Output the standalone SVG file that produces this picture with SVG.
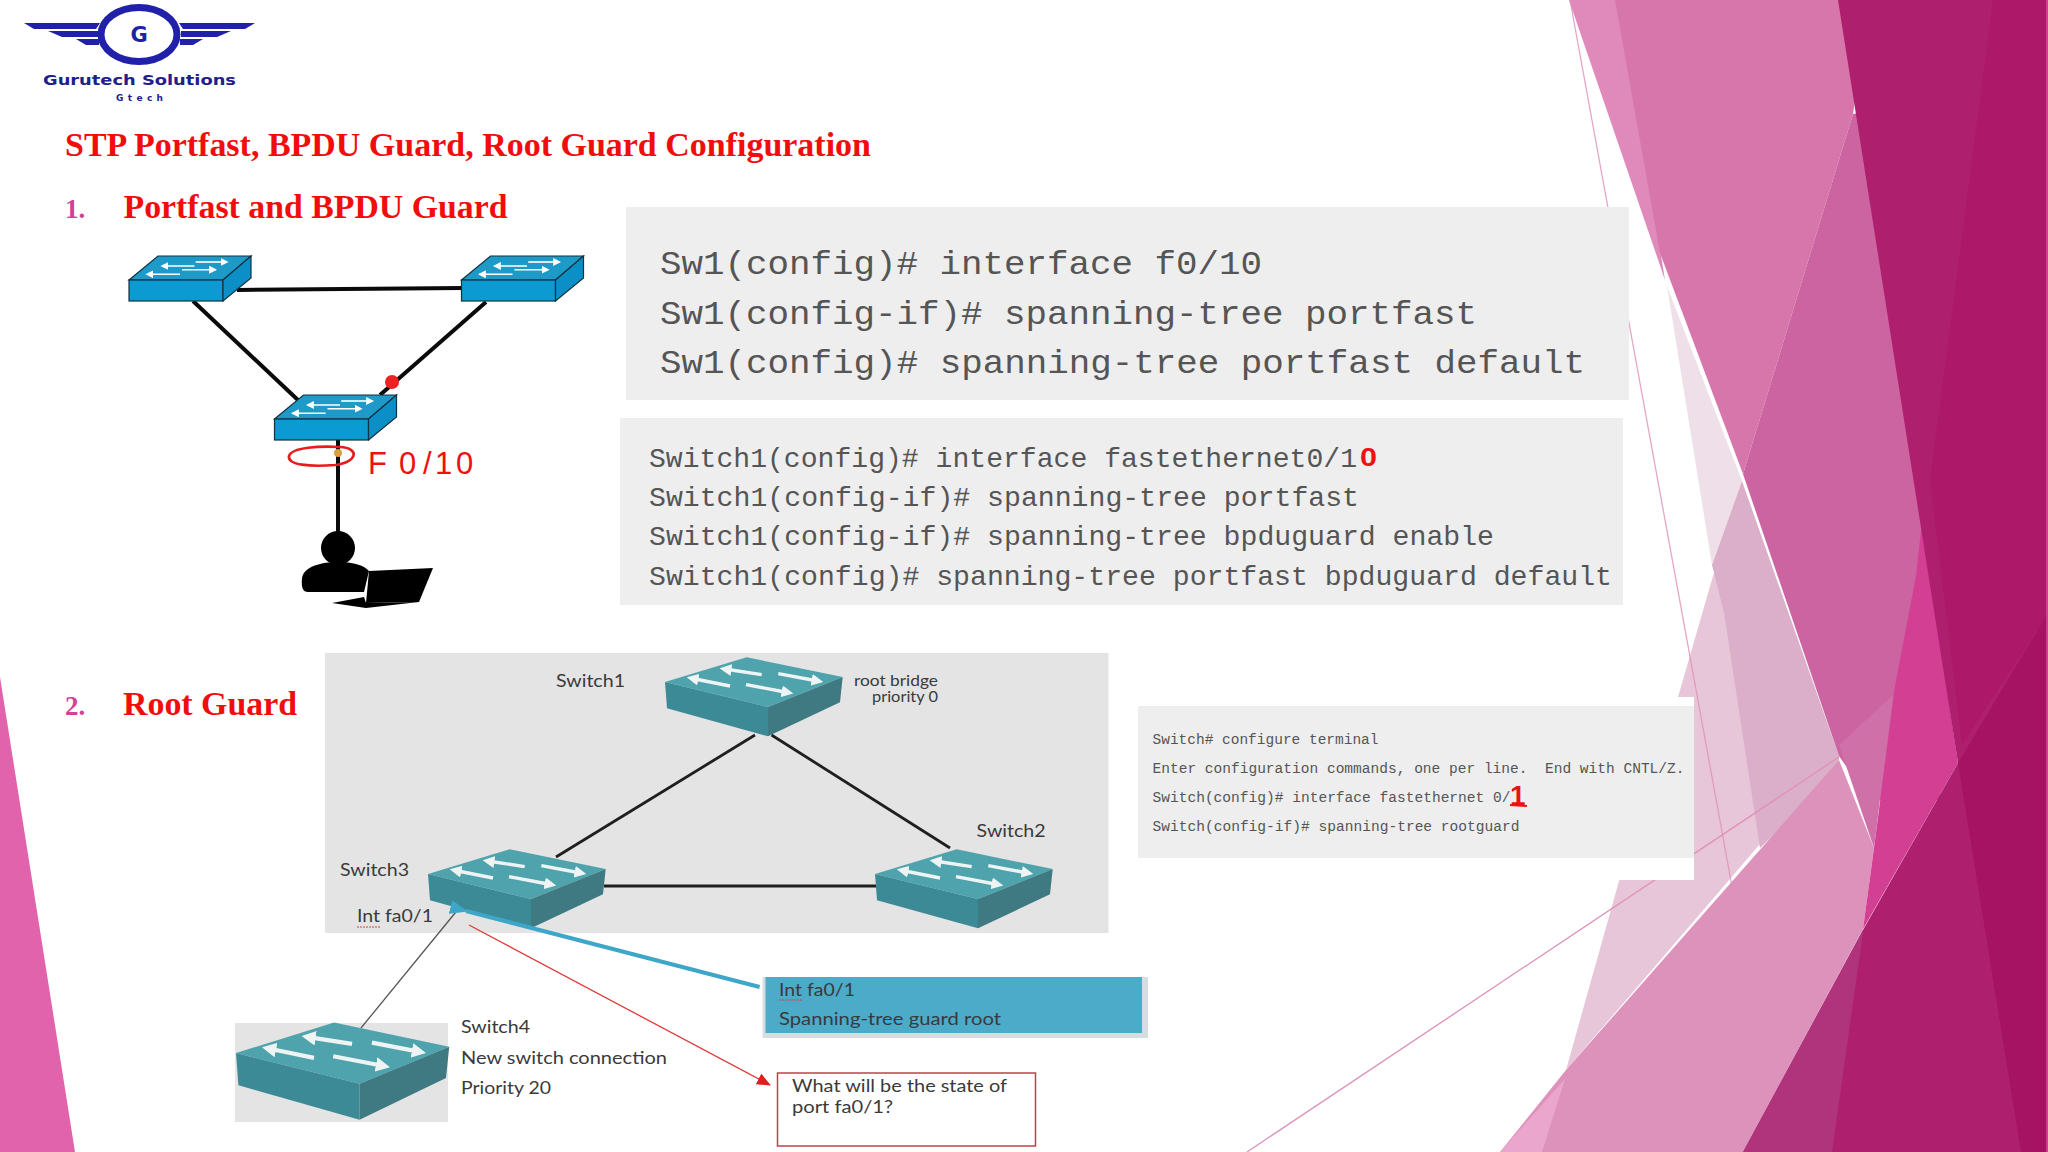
<svg xmlns="http://www.w3.org/2000/svg" width="2048" height="1152" viewBox="0 0 2048 1152">
<style>
text{white-space:pre}
.h{font-family:"Liberation Serif",serif;font-weight:bold;fill:#f20d0d}
.n{font-family:"Liberation Serif",serif;font-weight:bold;fill:#d63f96}
.m{font-family:"Liberation Mono",monospace;fill:#555555}
.c{font-family:Lato,"Open Sans",sans-serif;font-size:17px;fill:#3a3a3a}
.ink{font-family:"Liberation Sans",sans-serif;fill:#ee1111}
.panel{fill:#eeeeee}
.logo{fill:#2020a8}
.bs{stroke:#12323f;stroke-width:1.2}
.ba{stroke:#fff;stroke-width:1.6;fill:none;marker-end:url(#wh)}
.ta{stroke:#eef4f4;stroke-width:3.4;fill:none;marker-end:url(#wh2)}
.blk{stroke:#0a0a0a;stroke-width:4;fill:none}
.dk{stroke:#1f1f1f;stroke-width:2.8;fill:none}
.thin{fill:none;stroke:#e090b8;stroke-width:1.3}
</style>
<defs>
<marker id="wh" markerWidth="5" markerHeight="5" refX="4" refY="2.500" orient="auto"><path d="M0 0L5 2.500L0 5z" fill="#fff"/></marker>
<marker id="wh2" markerWidth="3.500" markerHeight="3.500" refX="1" refY="1.750" orient="auto"><path d="M0 0L3.500 1.750L0 3.500z" fill="#eef4f4"/></marker>
<marker id="bh" markerUnits="userSpaceOnUse" markerWidth="18" markerHeight="14" refX="2" refY="7" orient="auto"><path d="M18 0L0 7L18 14z" fill="#3ea6c8"/></marker>
<marker id="rh" markerUnits="userSpaceOnUse" markerWidth="14" markerHeight="12" refX="13" refY="6" orient="auto"><path d="M0 0L14 6L0 12z" fill="#e01f1f"/></marker>
<g id="bsw">
<path class="bs" d="M0 0L29-24H122L94 0z" fill="#1d9ac8"/>
<rect class="bs" x="0" y="0" width="94" height="21" fill="#0b9ad2"/>
<path class="bs" d="M94 0L122-24V-2L94 21z" fill="#0b8fc6"/>
<path class="ba" d="M66.700-18H98"/><path class="ba" d="M65.500-14H33"/><path class="ba" d="M53-10.300H86.500"/><path class="ba" d="M51-5.700H18"/>
</g>
<g id="tsw">
<path d="M0 0L81.700-24.700L177.700-5L103 25z" fill="#4fa3ad"/>
<path d="M0 0L103 25V54.300L2 26.300z" fill="#3c8a95"/>
<path d="M103 25L177.700-5L175 20.300L103 54.300z" fill="#3f7a83"/>
<path class="ta" d="M96.700-7.400L63-12.500"/><path class="ta" d="M113.300-8.400L150-1.500"/><path class="ta" d="M65 4L30-3"/><path class="ta" d="M81 2.600L120 10"/>
</g>
</defs>
<rect width="2048" height="1152" fill="#ffffff"/>
<g id="background">
<path d="M0 677L75 1152H0z" fill="#e063ab"/>
<path d="M1667 286L1742 481L1712 565z" fill="#efdfe9"/>
<path d="M1713 576L1730 530L1762 600L1776 640L1760 844L1566 1070L1619 881L1678 697z" fill="#e8c6da"/>
<path d="M1742 481L1839 756V770L1760 848L1724 613L1712 565z" fill="#dbafc9"/>
<path d="M1569 0H1620L1665 280z" fill="#e089bb"/>
<path d="M1615 0H1870L1853 114L1743 474L1660 253z" fill="#d776ab"/>
<path d="M1853 114L1940 100V800H1870L1839 756L1743 474z" fill="#cd64a2"/>
<path d="M1839 745L1893 695L1874 848z" fill="#cf70a9"/>
<path d="M1500 1152L1566 1070L1839 760L1874 848L1863 929L1743 1152z" fill="#dd92bb"/>
<path d="M1500 1152L1565 1079L1542 1152z" fill="#eaa6cc"/>
<path d="M1922 522L1958 763L1863 929L1874 848L1895 686L1916 576z" fill="#d33f93"/>
<path d="M1838 0H2048V1152H1743L1863.500 929L1958 763z" fill="#ae1f6e"/>
<path d="M1993 0H2048V613L1962 745L1930 480z" fill="#ae1869"/>
<path d="M2048 613L1958 763L2021 1152H2048z" fill="#a61363"/>
<path d="M1743 1152L1863.500 929L1832 1152z" fill="#b0347c"/>
<path d="M2047 0V1152" stroke="#d84f9d" stroke-width="1.500"/>
<path class="thin" d="M1570 0L1731 881L1769 1090" stroke-opacity=".8"/>
<path class="thin" d="M1247 1152L1839 757"/>
</g>
<g id="logo">
<ellipse cx="139" cy="34.500" rx="38" ry="27" fill="#fff" stroke="#2020a8" stroke-width="7"/>
<path class="logo" d="M24 23H100L96 29H34z"/><path class="logo" d="M255 23H179L183 29H245z"/>
<path class="logo" d="M48 31H98V37H62z"/><path class="logo" d="M231 31H181V37H217z"/>
<path class="logo" d="M76 39H99V45H86z"/><path class="logo" d="M203 39H180V45H193z"/>
<text x="139" y="42" text-anchor="middle" font-family="DejaVu Sans,sans-serif" font-weight="bold" font-size="21" fill="#2020a8">G</text>
<text x="43" y="85" font-family="DejaVu Sans,sans-serif" font-weight="bold" font-size="14" fill="#20208c" textLength="193" lengthAdjust="spacingAndGlyphs">Gurutech Solutions</text>
<text x="116" y="101" font-family="DejaVu Sans,sans-serif" font-weight="bold" font-size="9" fill="#20208c" textLength="47">Gtech</text>
</g>
<g id="headings">
<text class="h" x="65" y="156" font-size="34" textLength="806" lengthAdjust="spacingAndGlyphs">STP Portfast, BPDU Guard, Root Guard Configuration</text>
<text class="n" x="65" y="218" font-size="27">1.</text>
<text class="h" x="123.500" y="218" font-size="34" textLength="384" lengthAdjust="spacingAndGlyphs">Portfast and BPDU Guard</text>
<text class="n" x="65" y="715" font-size="27">2.</text>
<text class="h" x="123" y="715" font-size="34" textLength="174" lengthAdjust="spacingAndGlyphs">Root Guard</text>
</g>
<g id="portfast-connectors">
<path class="blk" d="M237 290L463 288"/>
<path class="blk" d="M193 301L299 401"/>
<path class="blk" d="M486 302L380 395"/>
<path class="blk" d="M338 440V539"/>
</g>
<g id="sw-a"><use href="#bsw" x="129" y="280"/></g>
<g id="sw-b"><use href="#bsw" x="461.500" y="280"/></g>
<g id="sw-c"><use href="#bsw" x="274.500" y="419"/></g>
<circle cx="392" cy="382" r="7" fill="#ee2222"/>
<g id="user">
<circle cx="338" cy="548" r="17" fill="#000"/>
<path d="M302 578C304 566 322 562 338 562C352 562 364 565 369 571L364 592H308C303 592 301 588 302 578z" fill="#000"/>
<path d="M369 571L433 568L419 602L366 603z" fill="#000"/>
<path d="M332 603L364 597L366 603L419 602L366 608z" fill="#000"/>
</g>
<g id="f010-note">
<path d="M289 456C292 447 320 446 340 447C360 448 358 462 335 465C310 467 287 465 289 456z" fill="none" stroke="#e81c1c" stroke-width="2.600"/>
<circle cx="338" cy="453" r="4" fill="#d8a040"/>
<text class="ink" x="368 399 423 435 456" y="474" font-size="31">F0/10</text>
</g>
<g id="panel-1">
<rect class="panel" x="626" y="207" width="1003" height="193"/>
<g class="m" font-size="34">
<text x="660" y="274" textLength="602" lengthAdjust="spacingAndGlyphs">Sw1(config)# interface f0/10</text>
<text x="660" y="324" textLength="817" lengthAdjust="spacingAndGlyphs">Sw1(config-if)# spanning-tree portfast</text>
<text x="660" y="373" textLength="925" lengthAdjust="spacingAndGlyphs">Sw1(config)# spanning-tree portfast default</text>
</g>
</g>
<g id="panel-2">
<rect class="panel" x="620" y="418" width="1003" height="187"/>
<g class="m" font-size="28">
<text x="649" y="467" textLength="708" lengthAdjust="spacingAndGlyphs">Switch1(config)# interface fastethernet0/1</text>
<text x="649" y="506" textLength="710" lengthAdjust="spacingAndGlyphs">Switch1(config-if)# spanning-tree portfast</text>
<text x="649" y="545" textLength="845" lengthAdjust="spacingAndGlyphs">Switch1(config-if)# spanning-tree bpduguard enable</text>
<text x="649" y="585" textLength="963" lengthAdjust="spacingAndGlyphs">Switch1(config)# spanning-tree portfast bpduguard default</text>
</g>
<text class="ink" x="1360" y="466" font-size="26" font-weight="bold" textLength="17" lengthAdjust="spacingAndGlyphs">0</text>
</g>
<g id="panel-3">
<rect x="1138" y="697" width="556" height="183" fill="#fff"/>
<rect class="panel" x="1138" y="706" width="556" height="152"/>
<g class="m" font-size="14.500">
<text x="1152.500" y="744" textLength="226" lengthAdjust="spacingAndGlyphs">Switch# configure terminal</text>
<text x="1152.500" y="773" textLength="532" lengthAdjust="spacingAndGlyphs">Enter configuration commands, one per line.  End with CNTL/Z.</text>
<text x="1152.500" y="802" textLength="358" lengthAdjust="spacingAndGlyphs">Switch(config)# interface fastethernet 0/</text>
<text x="1152.500" y="831" textLength="367" lengthAdjust="spacingAndGlyphs">Switch(config-if)# spanning-tree rootguard</text>
</g>
<text class="ink" x="1510" y="805" font-size="28" font-weight="bold">1</text>
<path d="M1510 805L1527 806" stroke="#ee1111" stroke-width="2"/>
</g>
<rect id="root-guard-bg" x="325" y="653" width="783.500" height="280" fill="#e4e4e4"/>
<rect id="switch4-bg" x="235" y="1023" width="213" height="99" fill="#e4e4e4"/>
<g id="rootguard-connectors">
<path class="dk" d="M755 735L556 857"/>
<path class="dk" d="M771.500 735L950 848"/>
<path class="dk" d="M604 886H876.500"/>
<path d="M461.600 905L361 1028" fill="none" stroke="#555" stroke-width="1.300"/>
<path d="M469 925L770 1085" fill="none" stroke="#e03a3a" stroke-width="1.300" marker-end="url(#rh)"/>
</g>
<g id="switch1"><use href="#tsw" x="665" y="682"/><text class="c" x="556" y="687" textLength="69" lengthAdjust="spacingAndGlyphs">Switch1</text><text class="c" x="854" y="686" style="font-size:15px" textLength="84" lengthAdjust="spacingAndGlyphs">root bridge</text><text class="c" x="872" y="702" style="font-size:15px" textLength="66" lengthAdjust="spacingAndGlyphs">priority 0</text></g>
<g id="switch2"><use href="#tsw" x="875" y="874"/><text class="c" x="976.600" y="837" textLength="69" lengthAdjust="spacingAndGlyphs">Switch2</text></g>
<g id="switch3"><use href="#tsw" x="428" y="874"/><text class="c" x="340" y="876" textLength="69" lengthAdjust="spacingAndGlyphs">Switch3</text><text class="c" x="357" y="922" textLength="76" lengthAdjust="spacingAndGlyphs">Int fa0/1</text><path d="M357 927h24" stroke="#d04040" stroke-width="1.200" stroke-dasharray="2 1"/></g>
<g id="switch4"><use href="#tsw" transform="translate(236 1053) scale(1.2 1.23)"/><text class="c" x="461" y="1033" textLength="69" lengthAdjust="spacingAndGlyphs">Switch4</text><text class="c" x="461" y="1064" textLength="206" lengthAdjust="spacingAndGlyphs">New switch connection</text><text class="c" x="461" y="1094" textLength="90" lengthAdjust="spacingAndGlyphs">Priority 20</text></g>
<path id="blue-arrow" d="M759.600 987L466 911" fill="none" stroke="#3ea6c8" stroke-width="4" marker-end="url(#bh)"/>
<g id="guard-box">
<rect x="762.600" y="977" width="385.400" height="61" fill="#d5dde1"/>
<rect x="765.500" y="977" width="376.500" height="56" fill="#4babc9"/>
<text class="c" x="779" y="996" textLength="76" lengthAdjust="spacingAndGlyphs">Int fa0/1</text>
<path d="M779 1000h24" stroke="#d04040" stroke-width="1.200" stroke-dasharray="2 1"/>
<text class="c" x="779" y="1025" textLength="222" lengthAdjust="spacingAndGlyphs">Spanning-tree guard root</text>
</g>
<g id="question-box">
<rect x="777.500" y="1073" width="258" height="73" fill="#fff" stroke="#c0404a" stroke-width="1.500"/>
<text class="c" x="792" y="1092" textLength="215" lengthAdjust="spacingAndGlyphs">What will be the state of</text>
<text class="c" x="792" y="1113" textLength="101" lengthAdjust="spacingAndGlyphs">port fa0/1?</text>
</g>
</svg>
